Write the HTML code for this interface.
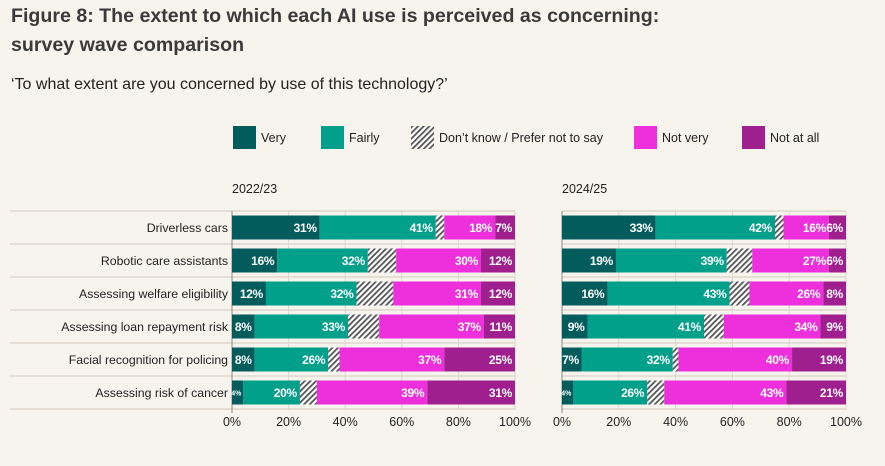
<!DOCTYPE html>
<html><head><meta charset="utf-8">
<style>
body{margin:0;background:#f7f4ee;width:885px;height:461px;overflow:hidden;font-family:"Liberation Sans",sans-serif;}
</style></head>
<body>
<svg id="chart" width="885" height="461" xmlns="http://www.w3.org/2000/svg" font-family="Liberation Sans, sans-serif">
<defs>
<pattern id="hatch" patternUnits="userSpaceOnUse" width="4" height="4" patternTransform="rotate(45)">
<rect width="4" height="4" fill="#ffffff"/><rect width="1.8" height="4" fill="#555"/>
</pattern>
</defs>
<text x="11" y="22" font-size="19.6" font-weight="bold" fill="#3a3a3a">Figure 8: The extent to which each AI use is perceived as concerning:</text>
<text x="11" y="51" font-size="19.6" font-weight="bold" fill="#3a3a3a">survey wave comparison</text>
<text x="11" y="89" font-size="16" fill="#222">‘To what extent are you concerned by use of this technology?’</text>
<g id="legend"></g>
<g id="plots"></g>
</svg>
<script>
const categories = ["Driverless cars","Robotic care assistants","Assessing welfare eligibility","Assessing loan repayment risk","Facial recognition for policing","Assessing risk of cancer"];
const seriesNames = ["Very","Fairly","Don’t know / Prefer not to say","Not very","Not at all"];
const very2223 = [31,16,12,8,8,4];
const fairly2223 = [41,32,32,33,26,20];
const dk2223 = [3,10,13,11,4,6];
const notVery2223 = [18,30,31,37,37,39];
const notAll2223 = [7,12,12,11,25,31];
const very2425 = [33,19,16,9,7,4];
const fairly2425 = [42,39,43,41,32,26];
const dk2425 = [3,9,7,7,2,6];
const notVery2425 = [16,27,26,34,40,43];
const notAll2425 = [6,6,8,9,19,21];
const ticks = [0,20,40,60,80,100];

const colors = ["#035c5c","#00a08a","url(#hatch)","#ee2fdc","#a01f8f"];
const NS = "http://www.w3.org/2000/svg";
const svg = document.getElementById('chart');
function mk(tag, attrs, parent){const e=document.createElementNS(NS,tag);for(const k in attrs)e.setAttribute(k,attrs[k]);(parent||svg).appendChild(e);return e;}

const lg = document.getElementById('legend');
const lgX = [233,321,411,634,742];
seriesNames.forEach((n,i)=>{
  const r = mk('rect',{x:lgX[i],y:126,width:23,height:23,fill:colors[i]},lg);
  
  
  const t = mk('text',{x:lgX[i]+28,y:142,'font-size':12.5,fill:'#222'},lg);
  
  
  t.textContent = n;
});

const rowY0 = 211, rowH = 33, barH = 24;
function panel(x0, x1, title, data, showCats, lineX0){
  const g = mk('g',{}, document.getElementById('plots'));
  
  
  const xs = v => x0 + (x1-x0)*v/100;
  const tt = mk('text',{x:x0,y:193,'font-size':12.5,fill:'#222'},g);
  
  
  tt.textContent = title;
  ticks.forEach(t=>{
    const l = mk('line',{x1:xs(t),x2:xs(t),y1:rowY0,y2:rowY0+rowH*categories.length+1,stroke:'#ddd6cc','stroke-width':1},g);
    
    
    const tl = mk('text',{x:xs(t),y:426,'font-size':12.5,fill:'#222','text-anchor':'middle'},g);
    
    
    tl.textContent = t+'%';
  });
  for(let i=0;i<=categories.length;i++){
    const l = mk('line',{x1:lineX0,x2:x1,y1:rowY0+i*rowH,y2:rowY0+i*rowH,stroke:'#ddd6cc','stroke-width':1.5},g);
    
    
  }
  const ax = mk('line',{x1:x0,x2:x0,y1:rowY0,y2:rowY0+rowH*categories.length+4,stroke:'#888','stroke-width':1},g);
  
  
  categories.forEach((c,i)=>{
    const yc = rowY0 + i*rowH + rowH/2;
    if(showCats){
      const ct = mk('text',{x:x0-4,y:yc+4.5,'font-size':12.3,fill:'#222','text-anchor':'end'},g);
      
      
      ct.textContent = c;
    }
    let acc = 0;
    data.forEach((s,k)=>{
      const v = s[i];
      const r = mk('rect',{x:xs(acc),y:yc-barH/2,width:xs(acc+v)-xs(acc),height:barH,fill:colors[k]},g);
      
      
      if(k!==2){
        const small = v<=4;
        const lt = mk('text',{x:xs(acc+v)-(small?2:3),y:yc+(small?3:4.5),'font-size':small?7:12,'font-weight':'bold',fill:'#fff','text-anchor':'end','letter-spacing':small?0:-0.3},g);
        
        
        lt.textContent = v+'%';
      }
      acc += v;
    });
  });
}
panel(232,515,"2022/23",[very2223,fairly2223,dk2223,notVery2223,notAll2223],true,10);
panel(562,846,"2024/25",[very2425,fairly2425,dk2425,notVery2425,notAll2425],false,562);
</script>
</body></html>
